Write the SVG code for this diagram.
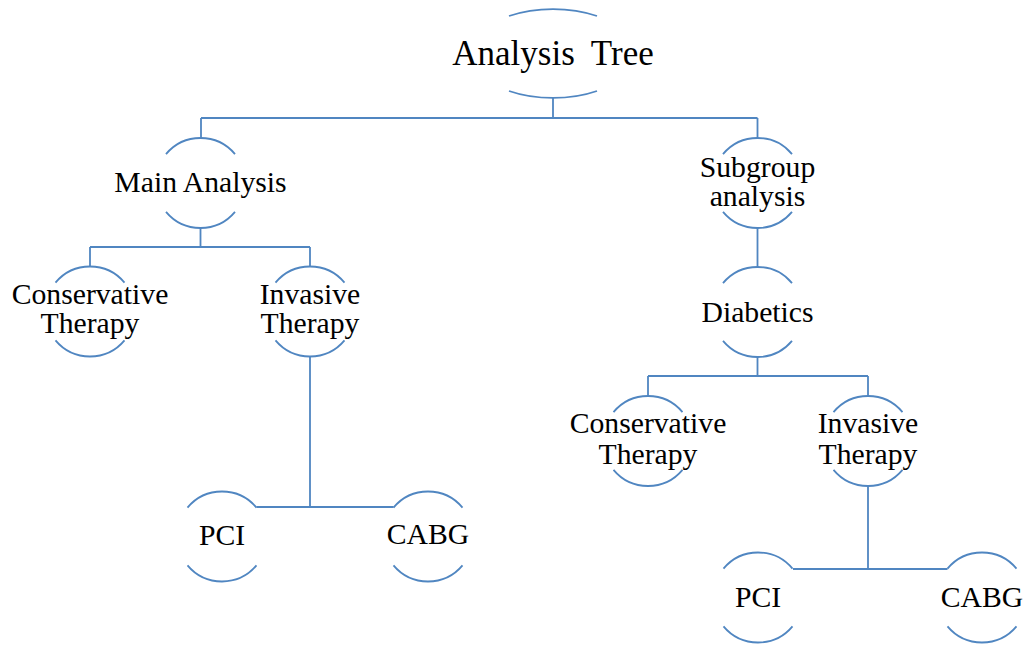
<svg xmlns="http://www.w3.org/2000/svg" width="1025" height="645" viewBox="0 0 1025 645">
  <style>
    .arc { fill: none; stroke: #5086C1; stroke-width: 1.8; }
    .conn { fill: none; stroke: #5086C1; stroke-width: 1.8; }
    text { font-family: "Liberation Serif", "Times New Roman", serif; font-size: 29.7px; fill: #000; text-anchor: middle; }
    .title { font-size: 35px; word-spacing: 8px; }
  </style>
  <defs>
    <!-- circle node outline: only top and bottom arcs, r=45, centred at origin -->
    <path id="rim" d="M-34.5 -28.9 A45 45 0 0 1 34.5 -28.9 M-34.5 28.9 A45 45 0 0 0 34.5 28.9"/>
  </defs>
  <rect width="1025" height="645" fill="#fff"/>

  <!-- connectors -->
  <g id="connectors" class="conn">
    <path d="M553 98 V118 M201 118 H757.5 M201 118 V138 M757.5 118 V138"/>
    <path d="M200.5 228 V247 M90 247 H310 M90 247 V266.5 M310 247 V266.5"/>
    <path d="M310 356.5 V507 M256.5 507 H393.5"/>
    <path d="M757.5 228 V267"/>
    <path d="M757.5 357 V376 M648 376 H868 M648 376 V396 M868 376 V396"/>
    <path d="M868 486 V569 M793 569 H947.5"/>
  </g>

  <g id="root">
    <path class="arc" d="M509 16 A82 44.5 0 0 1 597 16 M509 91 A82 44.5 0 0 0 597 91"/>
    <text class="title" x="553" y="65">Analysis Tree</text>
  </g>

  <g id="main-analysis">
    <use href="#rim" class="arc" x="200.5" y="183"/>
    <text x="200.5" y="192">Main Analysis</text>
  </g>

  <g id="subgroup-analysis">
    <use href="#rim" class="arc" x="757.5" y="183"/>
    <text x="757.5" y="177">Subgroup</text>
    <text x="757.5" y="206">analysis</text>
  </g>

  <g id="conservative-main">
    <use href="#rim" class="arc" x="90" y="311.5"/>
    <text x="90" y="304">Conservative</text>
    <text x="90" y="333">Therapy</text>
  </g>

  <g id="invasive-main">
    <use href="#rim" class="arc" x="310" y="311.5"/>
    <text x="310" y="304">Invasive</text>
    <text x="310" y="333">Therapy</text>
  </g>

  <g id="pci-main">
    <use href="#rim" class="arc" x="222" y="536.5"/>
    <text x="222" y="545">PCI</text>
  </g>

  <g id="cabg-main">
    <use href="#rim" class="arc" x="428" y="536.5"/>
    <text x="428" y="544">CABG</text>
  </g>

  <g id="diabetics">
    <use href="#rim" class="arc" x="757.5" y="312"/>
    <text x="757.5" y="322">Diabetics</text>
  </g>

  <g id="conservative-diabetics">
    <use href="#rim" class="arc" x="648" y="441"/>
    <text x="648" y="433">Conservative</text>
    <text x="648" y="464">Therapy</text>
  </g>

  <g id="invasive-diabetics">
    <use href="#rim" class="arc" x="868" y="441"/>
    <text x="868" y="433">Invasive</text>
    <text x="868" y="464">Therapy</text>
  </g>

  <g id="pci-diabetics">
    <use href="#rim" class="arc" x="758" y="597.5"/>
    <text x="758" y="607">PCI</text>
  </g>

  <g id="cabg-diabetics">
    <use href="#rim" class="arc" x="982" y="597.5"/>
    <text x="982" y="607">CABG</text>
  </g>
</svg>
